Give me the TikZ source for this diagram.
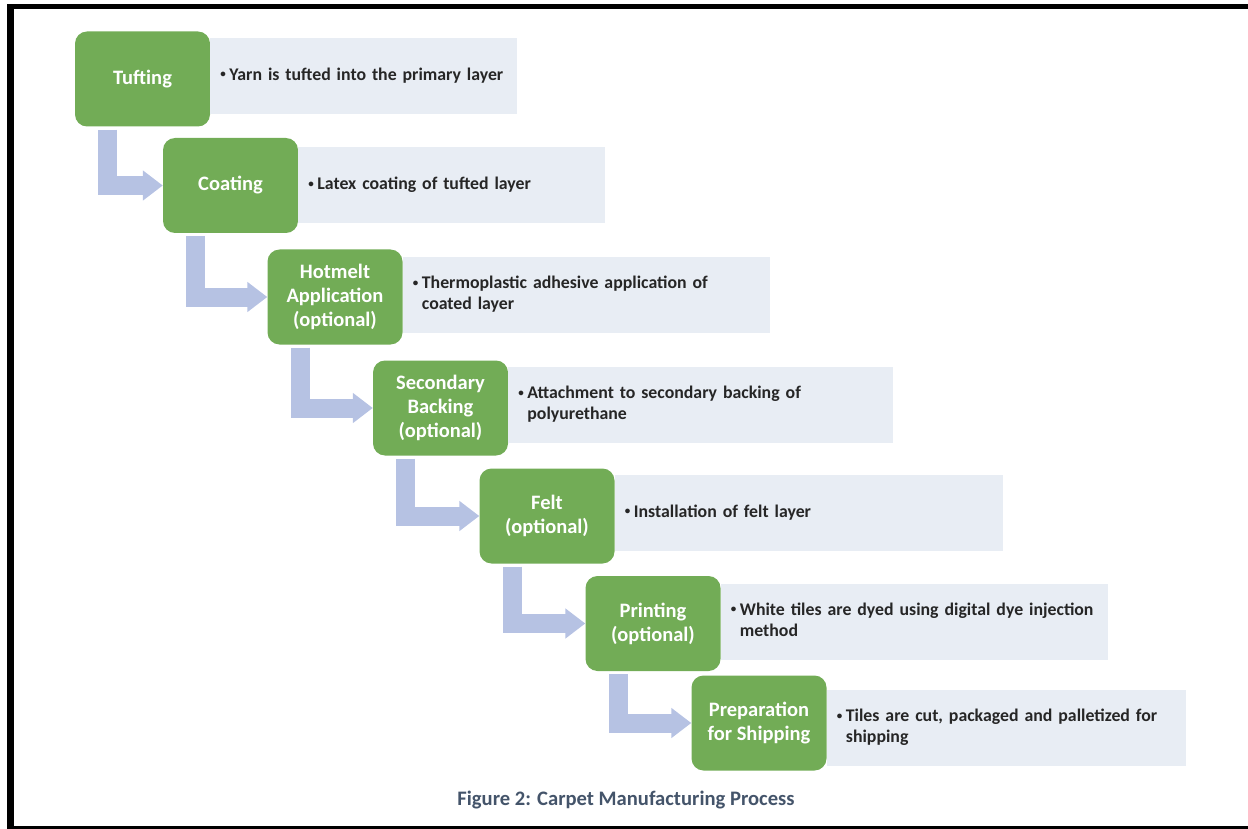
\documentclass[tikz,border=0pt]{standalone}
\usepackage{fontspec}
\setmainfont{Carlito}
\usepackage{xcolor}
\usetikzlibrary{positioning,arrows.meta}

\definecolor{stepgreen}{RGB}{114,172,86}
\definecolor{notegray}{RGB}{232,237,244}
\definecolor{arrowblue}{RGB}{182,194,227}
\definecolor{captionblue}{RGB}{68,84,106}

\tikzset{
  stepbox/.style={rectangle, rounded corners=12pt, fill=stepgreen, text=white,
    font=\fontsize{20.5}{24}\selectfont\bfseries, align=center,
    minimum width=135pt, minimum height=95pt, inner sep=2pt},
  notebox/.style={rectangle, fill=notegray, text=black!85, anchor=west,
    font=\fontsize{17.8}{21}\selectfont\bfseries, align=left, inner xsep=10pt,
    minimum height=76pt, text width=#1-20pt},
  flow/.style={draw=arrowblue, line width=19pt, line join=miter,
    -{Triangle[width=29pt,length=20pt]}}
}
\newcommand{\bul}[1]{\makebox[9pt][l]{\raisebox{2.5pt}{\fontsize{11}{11}\selectfont\textbullet}}\begin{tabular}[t]{@{}l@{}}#1\end{tabular}}

\begin{document}
\begin{tikzpicture}[x=1pt,y=-1pt]
      \useasboundingbox (0,0) rectangle (1248,829);
      % frame
      \fill[black] (7,4) rectangle (1248,9);
      \fill[black] (7,4) rectangle (14,829);
      \fill[black] (7,826) rectangle (1248,829);
      % steps
      \node[stepbox] (tuft) at (142.5,79) {Tufting};
      \node[stepbox] (coat) at (230.5,185.5) {Coating};
      \node[stepbox] (hot) at (335,297) {Hotmelt\\Application\\(optional)};
      \node[stepbox] (back) at (440.5,408) {Secondary\\Backing\\(optional)};
      \node[stepbox] (felt) at (547,516) {Felt\\(optional)};
      \node[stepbox] (print) at (653,623.5) {Printing\\(optional)};
      \node[stepbox] (ship) at (759,723) {Preparation\\for Shipping};
      % notes
      \node[notebox=307pt, right=0pt of tuft, yshift=3pt] (tuftnote) {\bul{Yarn is tufted into the primary layer}};
      \node[notebox=307pt, right=0pt of coat] (coatnote) {\bul{Latex coating of tufted layer}};
      \node[notebox=367pt, right=0pt of hot, yshift=2pt] (hotnote) {\bul{Thermoplastic adhesive application of\\coated layer}};
      \node[notebox=385pt, right=0pt of back, yshift=3pt] (backnote) {\bul{Attachment to secondary backing of\\polyurethane}};
      \node[notebox=388pt, right=0pt of felt, yshift=3pt] (feltnote) {\bul{Installation of felt layer}};
      \node[notebox=387pt, right=0pt of print, yshift=2pt] (printnote) {\bul{White tiles are dyed using digital dye injection\\method}};
      \node[notebox=359pt, right=0pt of ship, yshift=-5pt] (shipnote) {\bul{Tiles are cut, packaged and palletized for\\shipping}};
      % arrows
      \draw[flow] ([xshift=33pt,yshift=-3pt]tuft.south west) |- (coat.west);
      \draw[flow] ([xshift=33pt,yshift=-3pt]coat.south west) |- (hot.west);
      \draw[flow] ([xshift=33pt,yshift=-3pt]hot.south west) |- (back.west);
      \draw[flow] ([xshift=33pt,yshift=-3pt]back.south west) |- (felt.west);
      \draw[flow] ([xshift=33pt,yshift=-3pt]felt.south west) |- (print.west);
      \draw[flow] ([xshift=33pt,yshift=-3pt]print.south west) |- (ship.west);
      % caption
      \node[text=captionblue, font=\fontsize{20.6}{24}\selectfont\bfseries] (cap) at (626,800) {Figure 2: Carpet Manufacturing Process};
    \end{tikzpicture}
\end{document}
